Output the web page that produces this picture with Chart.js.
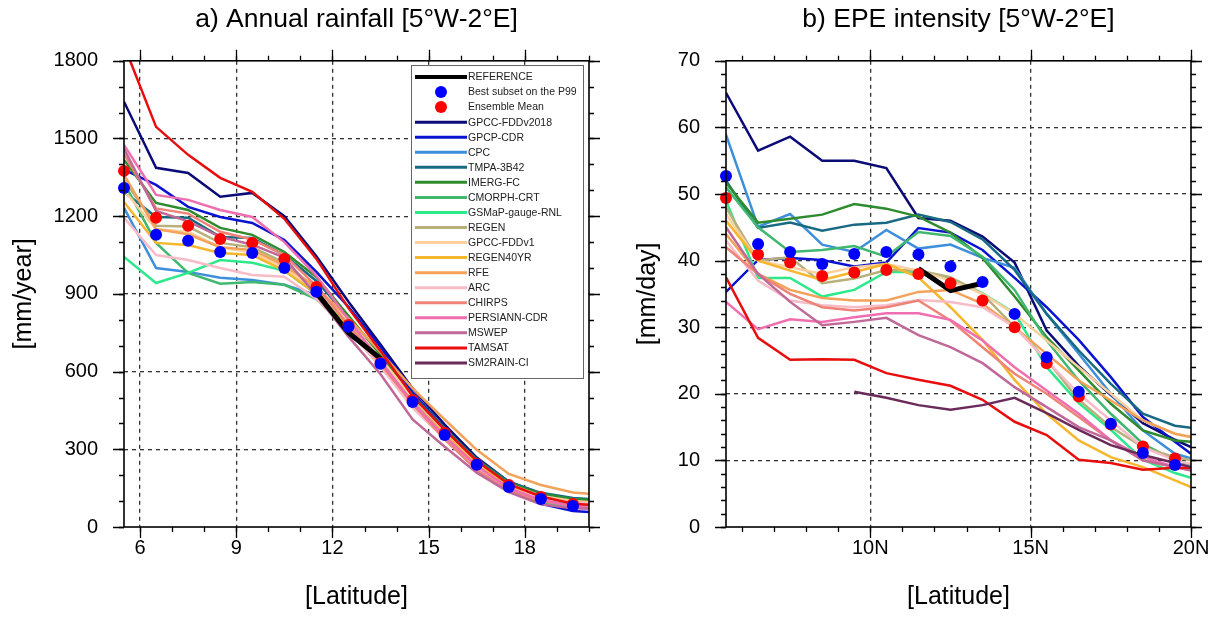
<!DOCTYPE html>
<html><head><meta charset="utf-8">
<script src="https://cdn.jsdelivr.net/npm/chart.js@4.4.1/dist/chart.umd.min.js"></script>
<style>
html,body{margin:0;padding:0;background:#fff;width:1220px;height:618px;overflow:hidden}
#wrap{position:relative;width:1220px;height:618px;background:#fff}
canvas{position:absolute;top:0}
#ca{left:0}
#cb{left:610px}
</style></head><body>
<div id="wrap"><canvas id="ca" width="610" height="618"></canvas><canvas id="cb" width="610" height="618"></canvas></div>
<script>
// ---------- categories / ticks ----------
const latLines = [5.5,6.5,7.5,8.5,9.5,10.5,11.5,12.5,13.5,14.5,15.5,16.5,17.5,18.5,19.5,20];
const latDots  = [5.5,6.5,7.5,8.5,9.5,10.5,11.5,12.5,13.5,14.5,15.5,16.5,17.5,18.5,19.5];
const annualXTicks = [6,9,12,15,18];
const annualXLabels = ['6','9','12','15','18'];
const annualYTicks = [0,300,600,900,1200,1500,1800];
const epeXTicks = [10,15,20];
const epeXLabels = ['10N','15N','20N'];
const epeYTicks = [0,10,20,30,40,50,60,70];

const products = ['GPCC-FDDv2018','GPCP-CDR','CPC','TMPA-3B42','IMERG-FC','CMORPH-CRT','GSMaP-gauge-RNL','REGEN','GPCC-FDDv1','REGEN40YR','RFE','ARC','CHIRPS','PERSIANN-CDR','MSWEP','TAMSAT','SM2RAIN-CI'];
const productColors = ['#0b0b78','#0a14d0','#3d8fdc','#186a82','#2e8b2e','#40b870','#2ee88c','#b8b07a','#fccf9e','#f6b62e','#f4a25a','#f8bcc8','#ee8478','#ee6eb0','#c06898','#e80e0e','#6a2a5a'];

// ---------- a) Annual rainfall [mm/year] ----------
const annRef   = [null,null,null,null,null,null,905,750,650,null,null,null,null,null,null,null];
const annBest  = [1309,1128,1105,1062,1058,1000,908,773,630,483,355,240,154,108,81];
const annEns   = [1375,1194,1163,1112,1097,1035,927,780,633,490,363,243,162,116,89];
const annGPCCv2018 = [1642,1387,1367,1275,1290,1200,1045,870,705,535,395,268,175,128,100,96];
const annGPCP      = [1380,1321,1236,1197,1174,1108,985,850,695,520,380,250,150,90,62,58];
const annCPC       = [1232,1000,985,962,954,935,895,790,650,500,370,250,160,110,85,80];
const annTMPA      = [1294,1197,1194,1120,1116,1050,950,810,670,510,380,262,175,132,112,108];
const annIMERG     = [1417,1251,1224,1155,1128,1062,965,815,665,505,375,258,170,128,108,105];
const annCMORPH    = [1330,1097,981,939,946,935,880,760,620,470,345,228,142,95,80,76];
const annGSMaP     = [1043,942,981,1031,1020,989,900,780,640,490,360,240,150,100,80,76];
const annREGEN     = [1340,1163,1160,1097,1080,1020,920,780,640,490,360,245,160,115,95,92];
const annGPCCv1    = [1300,1150,1140,1080,1060,1000,910,790,650,500,370,250,165,120,100,96];
const annREGEN40   = [1255,1097,1089,1058,1050,990,900,770,630,480,355,240,158,115,95,92];
const annRFE       = [1360,1150,1130,1080,1070,1010,925,805,675,535,415,298,205,162,133,128];
const annARC       = [1194,1050,1031,1000,973,966,880,760,620,460,340,230,150,110,95,92];
const annCHIRPS    = [1440,1230,1210,1140,1110,1050,930,780,630,475,338,220,140,100,82,78];
const annPERSIANN  = [1475,1282,1263,1224,1197,1100,970,800,640,480,350,235,150,105,80,76];
const annMSWEP     = [1460,1220,1180,1120,1090,1040,895,735,590,415,310,210,135,88,72,70];
const annTAMSAT    = [1860,1545,1437,1348,1294,1190,1035,845,680,505,375,255,165,118,90,86];
const annSM2RAIN   = [null,null,null,null,null,null,null,null,null,null,null,null,null,null,null,null];

// ---------- b) EPE intensity [mm/day] ----------
const epeRef   = [null,null,null,null,null,null,38.8,35.5,36.6,null,null,null,null,null,null,null];
const epeBest  = [52.7,42.5,41.3,39.5,41.0,41.3,40.9,39.1,36.8,32.0,25.5,20.3,15.5,11.1,9.3];
const epeEns   = [49.4,40.9,39.7,37.7,38.2,38.6,38.0,36.6,34.0,30.0,24.6,19.6,15.4,12.1,10.3];
const epeGPCCv2018 = [65.2,56.5,58.6,55.0,55.0,53.9,46.4,46.0,43.6,39.7,29.5,24.2,19.8,15.6,13.1,12.0];
const epeGPCP      = [35.3,40.1,40.4,40.1,39.1,39.7,44.9,44.2,41.6,37.4,33.0,28.1,22.5,16.5,12.8,11.0];
const epeCPC       = [58.9,45.1,47.0,42.4,41.3,44.6,41.8,42.4,40.4,38.9,32.0,26.0,20.0,14.5,11.0,10.3];
const epeTMPA      = [52.0,44.9,45.7,44.5,45.4,45.7,46.9,45.8,43.2,38.6,32.0,26.5,21.5,17.0,15.2,14.9];
const epeIMERG     = [51.7,45.7,46.3,46.9,48.5,47.8,46.6,44.2,40.4,34.6,28.5,23.5,18.5,14.5,13.0,12.8];
const epeCMORPH    = [51.0,45.0,41.3,41.6,42.2,40.6,44.3,43.7,40.6,35.6,28.0,22.0,17.0,12.5,10.0,9.4];
const epeGSMaP     = [49.0,37.4,37.4,34.6,35.6,38.3,38.3,37.4,35.1,32.1,24.0,18.6,14.6,10.1,8.1,7.4];
const epeREGEN     = [48.0,40.0,40.5,36.6,37.3,38.6,38.5,37.5,35.0,30.0,25.1,19.1,15.0,12.0,10.5,10.0];
const epeGPCCv1    = [47.0,40.0,39.0,38.0,39.0,39.5,38.5,37.0,35.0,32.0,28.0,24.0,20.0,16.0,14.0,13.5];
const epeREGEN40   = [46.0,40.0,38.5,37.1,38.3,39.5,37.5,33.0,28.1,22.1,17.0,13.0,10.5,9.0,7.0,6.0];
const epeRFE       = [44.0,38.0,35.6,34.4,34.0,34.0,35.3,35.6,33.5,30.0,26.0,22.0,19.0,16.0,14.0,13.5];
const epeARC       = [43.0,37.0,34.0,33.3,33.0,33.3,34.1,33.8,33.0,30.0,25.0,20.0,16.0,12.0,10.0,9.5];
const epeCHIRPS    = [42.0,38.0,35.0,33.0,32.5,33.0,34.0,31.0,27.0,23.0,20.0,16.5,13.0,10.0,9.0,8.5];
const epePERSIANN  = [33.8,29.7,31.2,30.8,31.5,32.1,32.1,31.1,28.0,24.0,20.5,17.0,13.0,10.5,9.0,8.5];
const epeMSWEP     = [45.0,38.0,33.8,30.3,30.8,31.4,28.8,27.0,24.6,21.0,18.0,15.0,13.0,10.0,9.0,8.5];
const epeTAMSAT    = [37.5,28.4,25.1,25.2,25.1,23.1,22.1,21.2,19.1,15.8,13.8,10.1,9.6,8.6,8.9,8.9];
const epeSM2RAIN   = [null,null,null,null,20.3,19.4,18.3,17.6,18.3,19.4,17.1,14.6,12.3,10.8,9.6,9.0];

const annualSeries = [annGPCCv2018,annGPCP,annCPC,annTMPA,annIMERG,annCMORPH,annGSMaP,annREGEN,annGPCCv1,annREGEN40,annRFE,annARC,annCHIRPS,annPERSIANN,annMSWEP,annTAMSAT,annSM2RAIN];
const epeSeries = [epeGPCCv2018,epeGPCP,epeCPC,epeTMPA,epeIMERG,epeCMORPH,epeGSMaP,epeREGEN,epeGPCCv1,epeREGEN40,epeRFE,epeARC,epeCHIRPS,epePERSIANN,epeMSWEP,epeTAMSAT,epeSM2RAIN];

// ---------- helpers ----------
const FONT = "'Liberation Sans', Arial, Helvetica, sans-serif";
Chart.defaults.font.family = FONT;
Chart.defaults.color = '#000';

function pts(xs, ys) {
  const out = [];
  for (let i = 0; i < xs.length; i++) if (ys[i] !== null && ys[i] !== undefined) out.push({x: xs[i], y: ys[i]});
  return out;
}
function buildDatasets(series, ref, best, ens) {
  const ds = [];
  series.forEach((s, i) => {
    ds.push({label: products[i], data: pts(latLines, s), showLine: true, borderColor: productColors[i],
      backgroundColor: productColors[i], borderWidth: 2.5, pointRadius: 0, tension: 0, order: 100 - i});
  });
  ds.push({label: 'REFERENCE', data: pts(latLines, ref), showLine: true, borderColor: '#000', backgroundColor: '#000',
    borderWidth: 5, pointRadius: 0, tension: 0, order: 10});
  ds.push({label: 'Ensemble Mean', data: pts(latDots, ens), showLine: false, pointRadius: 6, pointBorderWidth: 0,
    pointBackgroundColor: '#ff0000', backgroundColor: '#ff0000', borderColor: '#ff0000', order: 6, clip: false});
  ds.push({label: 'Best subset on the P99', data: pts(latDots, best), showLine: false, pointRadius: 6, pointBorderWidth: 0,
    pointBackgroundColor: '#0000ff', backgroundColor: '#0000ff', borderColor: '#0000ff', order: 5, clip: false});
  return ds;
}
function range(a, b, step) { const r = []; for (let v = a; v <= b + 1e-9; v += step) r.push(+v.toFixed(4)); return r; }

const framePlugin = {
  id: 'frame',
  afterDraw(chart, args, o) {
    const {ctx, chartArea: a, scales} = chart;
    const x = scales.x, y = scales.y;
    ctx.save();
    ctx.setLineDash([]);
    ctx.strokeStyle = '#000';
    ctx.lineWidth = 1.3;
    const major = 11, minor = 5;
    const drawX = (vals, len) => vals.forEach(v => {
      const px = Math.round(x.getPixelForValue(v)) + 0.5;
      ctx.beginPath(); ctx.moveTo(px, a.bottom); ctx.lineTo(px, a.bottom + len);
      ctx.moveTo(px, a.top); ctx.lineTo(px, a.top - len); ctx.stroke();
    });
    const drawY = (vals, len) => vals.forEach(v => {
      const py = Math.round(y.getPixelForValue(v)) + 0.5;
      ctx.beginPath(); ctx.moveTo(a.left, py); ctx.lineTo(a.left - len, py);
      ctx.moveTo(a.right, py); ctx.lineTo(a.right + len, py); ctx.stroke();
    });
    drawX(o.xMinor, minor); drawX(o.xMajor, major);
    drawY(o.yMinor, minor); drawY(o.yMajor, major);
    ctx.lineWidth = 1.6;
    ctx.strokeRect(a.left, a.top, a.right - a.left, a.bottom - a.top);
    ctx.restore();
  }
};

const legendPlugin = {
  id: 'boxLegend',
  afterDraw(chart, args, o) {
    if (!o.show) return;
    const ctx = chart.ctx;
    ctx.save();
    ctx.fillStyle = '#fff';
    ctx.fillRect(o.x, o.y, o.w, o.h);
    ctx.strokeStyle = '#666'; ctx.lineWidth = 1;
    ctx.strokeRect(o.x + 0.5, o.y + 0.5, o.w, o.h);
    const byLabel = {};
    chart.data.datasets.forEach(d => byLabel[d.label] = d);
    const order = ['REFERENCE', 'Best subset on the P99', 'Ensemble Mean'].concat(products);
    ctx.font = '10.5px ' + FONT;
    ctx.textBaseline = 'middle';
    ctx.textAlign = 'left';
    order.forEach((lab, i) => {
      const d = byLabel[lab];
      const cy = o.y + 12 + i * o.step;
      if (d.showLine) {
        ctx.strokeStyle = d.borderColor;
        ctx.lineWidth = lab === 'REFERENCE' ? 4 : 3;
        ctx.beginPath(); ctx.moveTo(o.x + 4, cy); ctx.lineTo(o.x + 56, cy); ctx.stroke();
      } else {
        ctx.fillStyle = d.pointBackgroundColor;
        ctx.beginPath(); ctx.arc(o.x + 30, cy, 6, 0, Math.PI * 2); ctx.fill();
      }
      ctx.fillStyle = '#222';
      ctx.fillText(lab, o.x + 57, cy + 0.5);
    });
    ctx.restore();
  }
};

function makeChart(id, cfg) {
  return new Chart(document.getElementById(id), {
    type: 'scatter',
    data: {datasets: buildDatasets(cfg.series, cfg.ref, cfg.best, cfg.ens)},
    plugins: [framePlugin, legendPlugin],
    options: {
      responsive: false, animation: false, events: [],
      layout: {padding: {left: 0, right: cfg.rightPad, top: 0, bottom: 0}},
      plugins: {
        legend: {display: false}, tooltip: {enabled: false},
        title: {display: true, fullSize: false, text: cfg.title, color: '#000', font: {size: 26.5, weight: 'normal', family: FONT},
          padding: {top: 4, bottom: 25}},
        frame: {xMajor: cfg.xTicks, xMinor: cfg.xMinor, yMajor: cfg.yTicks, yMinor: cfg.yMinor},
        boxLegend: cfg.legend
      },
      scales: {
        x: {
          type: 'linear', min: 5.5, max: 20,
          afterBuildTicks: s => { s.ticks = cfg.xTicks.map(v => ({value: v})); },
          afterFit: s => { s.height = 91; },
          ticks: {autoSkip: false, maxRotation: 0, padding: 9, color: '#000', font: {size: 20, family: FONT},
            callback: v => cfg.xLabels[cfg.xTicks.indexOf(v)]},
          grid: {drawTicks: false, tickLength: 0, lineWidth: 1.3, color: c => (c.tick && (c.tick.value <= 5.5 || c.tick.value >= 20)) ? 'rgba(0,0,0,0)' : '#333'},
          border: {display: false, dash: [4, 4]},
          title: {display: true, text: '[Latitude]', color: '#000', font: {size: 25, family: FONT}, padding: {top: 0, bottom: 6}}
        },
        y: {
          type: 'linear', min: cfg.yTicks[0], max: cfg.yTicks[cfg.yTicks.length - 1],
          afterBuildTicks: s => { s.ticks = cfg.yTicks.map(v => ({value: v})); },
          afterFit: s => { s.width = cfg.yWidth; },
          ticks: {autoSkip: false, padding: 26, color: '#000', font: {size: 20, family: FONT}, callback: v => String(v)},
          grid: {drawTicks: false, tickLength: 0, lineWidth: 1.3, color: c => (c.tick && (c.tick.value <= cfg.yTicks[0] || c.tick.value >= cfg.yTicks[cfg.yTicks.length - 1])) ? 'rgba(0,0,0,0)' : '#333'},
          border: {display: false, dash: [4, 4]},
          title: {display: true, text: cfg.yTitle, color: '#000', font: {size: 25, family: FONT}, padding: {top: cfg.yTitlePad, bottom: 0}}
        }
      }
    }
  });
}

makeChart('ca', {
  title: 'a) Annual rainfall [5°W-2°E]', yTitle: '[mm/year]', yTitlePad: 9, yWidth: 124, rightPad: 21,
  series: annualSeries, ref: annRef, best: annBest, ens: annEns,
  xTicks: annualXTicks, xLabels: annualXLabels, xMinor: range(6, 20, 1), yTicks: annualYTicks, yMinor: range(0, 1800, 100),
  legend: {show: true, x: 411, y: 65, w: 172, h: 313, step: 15.05}
});
makeChart('cb', {
  title: 'b) EPE intensity [5°W-2°E]', yTitle: '[mm/day]', yTitlePad: 23, yWidth: 116, rightPad: 29,
  series: epeSeries, ref: epeRef, best: epeBest, ens: epeEns,
  xTicks: epeXTicks, xLabels: epeXLabels, xMinor: range(6, 20, 1), yTicks: epeYTicks, yMinor: range(0, 70, 2),
  legend: {show: false}
});
</script>
</body></html>
